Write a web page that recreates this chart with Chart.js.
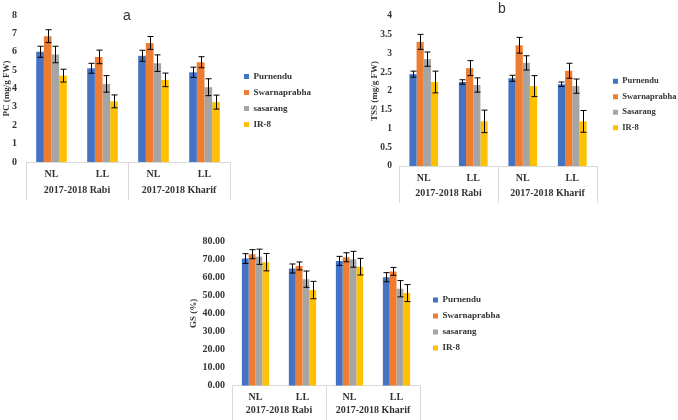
<!DOCTYPE html>
<html>
<head>
<meta charset="utf-8">
<script src="https://cdn.jsdelivr.net/npm/chart.js@4.4.1/dist/chart.umd.min.js"></script>
<style>
  html, body { margin: 0; padding: 0; background: #fff; width: 678px; height: 420px; overflow: hidden; }
  body { position: relative; }
  canvas { position: absolute; }
  .tag { position: absolute; font: 14px 'Liberation Sans', Arial, sans-serif; color: #333; transform: translate(-50%, -50%); }
</style>
</head>
<body>
<canvas id="pc"  width="316" height="203" style="left:0;top:0"></canvas>
<canvas id="tss" width="312" height="210" style="left:366px;top:0"></canvas>
<canvas id="gs"  width="319" height="192" style="left:187px;top:228px"></canvas>
<div class="tag" style="left:127px;top:15px">a</div>
<div class="tag" style="left:502px;top:8px">b</div>
<script>
'use strict';

// ── data ────────────────────────────────────────────────────────────────────
const conditions = ['NL', 'LL', 'NL', 'LL'];
const seasons    = ['2017-2018 Rabi', '2017-2018 Kharif'];
const varieties  = ['Purnendu', 'Swarnaprabha', 'sasarang', 'IR-8'];
const varietiesB = ['Purnendu', 'Swarnaprabha', 'Sasarang', 'IR-8'];
const colors     = ['#4472C4', '#ED7D31', '#A5A5A5', '#FFC000'];

// order inside each row: NL Rabi, LL Rabi, NL Kharif, LL Kharif
const pcMeans  = [[6.00, 5.10, 5.78, 4.88], [6.85, 5.72, 6.48, 5.43], [5.85, 4.25, 5.38, 4.07], [4.70, 3.30, 4.47, 3.26]];
const pcErrors = [[0.30, 0.27, 0.30, 0.28], [0.35, 0.37, 0.35, 0.30], [0.45, 0.45, 0.45, 0.46], [0.35, 0.35, 0.37, 0.38]];

const tssMeans  = [[2.45, 2.24, 2.34, 2.18], [3.31, 2.61, 3.22, 2.54], [2.85, 2.16, 2.75, 2.13], [2.24, 1.19, 2.13, 1.19]];
const tssErrors = [[0.08, 0.06, 0.08, 0.06], [0.20, 0.20, 0.21, 0.20], [0.19, 0.19, 0.19, 0.19], [0.29, 0.30, 0.28, 0.29]];

const gsMeans  = [[70.3, 64.8, 69.0, 60.0], [72.7, 66.2, 71.0, 63.2], [71.3, 58.9, 69.9, 53.6], [68.3, 52.9, 65.8, 51.2]];
const gsErrors = [[2.7, 2.5, 2.5, 2.5], [2.5, 2.2, 2.5, 2.2], [4.2, 4.5, 4.4, 4.5], [4.8, 4.8, 4.6, 4.7]];

const pcTicks  = ['0', '1', '2', '3', '4', '5', '6', '7', '8'];
const tssTicks = ['0', '0.5', '1', '1.5', '2', '2.5', '3', '3.5', '4'];
const gsTicks  = ['0.00', '10.00', '20.00', '30.00', '40.00', '50.00', '60.00', '70.00', '80.00'];

// ── style ───────────────────────────────────────────────────────────────────
const TEXT  = '#333333';
const LINE  = '#d9d9d9';
const SERIF = "'Liberation Serif', 'Times New Roman', serif";

Chart.defaults.font.family = SERIF;
Chart.defaults.font.weight = 'bold';
Chart.defaults.color = TEXT;

// error bars, drawn from the y scale
const errorBars = {
  id: 'errorBars',
  afterDatasetsDraw(chart) {
    const { ctx } = chart;
    const y = chart.scales.y;
    ctx.save();
    ctx.strokeStyle = '#000';
    ctx.lineWidth = 1;
    chart.data.datasets.forEach((ds, i) => {
      chart.getDatasetMeta(i).data.forEach((bar, j) => {
        const v = ds.data[j], e = ds.errors[j];
        const t = y.getPixelForValue(v + e), b = y.getPixelForValue(v - e);
        const x = Math.round(bar.x) + 0.5;
        ctx.beginPath();
        ctx.moveTo(x, t); ctx.lineTo(x, b);
        ctx.moveTo(x - 3, t); ctx.lineTo(x + 3, t);
        ctx.moveTo(x - 3, b); ctx.lineTo(x + 3, b);
        ctx.stroke();
      });
    });
    ctx.restore();
  }
};

// second row of the category axis (season groups + divider lines)
const seasonAxis = {
  id: 'seasonAxis',
  afterDraw(chart, args, opts) {
    const { ctx, chartArea: a } = chart;
    const x = chart.scales.x;
    const mid = (x.getPixelForValue(1) + x.getPixelForValue(2)) / 2;
    const edges = [a.left, mid, a.right];
    ctx.save();
    ctx.strokeStyle = LINE;
    ctx.lineWidth = 1;
    edges.forEach(px => {
      const xx = Math.round(px) + 0.5;
      ctx.beginPath();
      ctx.moveTo(xx, a.bottom);
      ctx.lineTo(xx, a.bottom + opts.len);
      ctx.stroke();
    });
    ctx.fillStyle = TEXT;
    ctx.font = 'bold 10px ' + SERIF;
    ctx.textAlign = 'center';
    ctx.textBaseline = 'middle';
    seasons.forEach((s, k) => ctx.fillText(s, (edges[k] + edges[k + 1]) / 2, a.bottom + opts.dy));
    ctx.restore();
  }
};

function makeChart(id, o) {
  return new Chart(document.getElementById(id), {
    type: 'bar',
    data: {
      labels: conditions,
      datasets: o.names.map((n, i) => ({
        label: n,
        data: o.means[i],
        errors: o.errors[i],
        backgroundColor: colors[i],
        borderWidth: 0,
        categoryPercentage: o.cat,
        barPercentage: 1,
      })),
    },
    options: {
      responsive: false,
      animation: false,
      layout: { padding: { top: 0, right: 0, bottom: o.padBottom, left: 0 } },
      plugins: {
        title: { display: true, text: '', padding: 0, font: { size: o.top, lineHeight: 1 } },
        legend: {
          position: 'right', align: 'center', maxWidth: o.legendW,
          labels: { boxWidth: 5, boxHeight: 5, padding: 7, color: TEXT, font: { size: o.legendFont, weight: 'bold' } },
        },
        tooltip: { enabled: false },
        seasonAxis: { len: o.lineLen, dy: o.groupDy },
      },
      scales: {
        x: {
          grid: { display: false, drawTicks: false },
          border: { display: true, color: LINE },
          ticks: { padding: 6, color: TEXT, font: { size: 10, weight: 'bold' } },
          afterFit: s => { s.height = o.xH; },
        },
        y: {
          min: 0, max: o.max,
          grid: { display: false, drawTicks: false },
          border: { display: false },
          ticks: { stepSize: o.step, padding: o.tickPad, color: TEXT, font: { size: o.tickFont, weight: 'bold' }, callback: (v, i) => o.ticks[i] },
          title: { display: true, text: o.title, color: TEXT, font: { size: 9, weight: 'bold' }, padding: { top: o.titlePad, bottom: 0 } },
          afterFit: s => { s.width = o.yW; },
        },
        pad: {
          position: 'right', display: true,
          grid: { display: false, drawTicks: false },
          border: { display: false },
          ticks: { display: false },
          afterFit: s => { s.width = o.gap; },
        },
      },
    },
    plugins: [errorBars, seasonAxis],
  });
}

makeChart('pc', {
  names: varieties, means: pcMeans, errors: pcErrors, ticks: pcTicks,
  max: 8, step: 1, title: 'PC (mg/g FW)',
  top: 12, padBottom: 2, xH: 39, yW: 26, tickPad: 9, tickFont: 10, titlePad: 1, gap: 7, legendW: 79, legendFont: 9,
  cat: 0.6, lineLen: 38, groupDy: 28,
});

makeChart('tss', {
  names: varietiesB, means: tssMeans, errors: tssErrors, ticks: tssTicks,
  max: 4, step: 0.5, title: 'TSS (mg/g FW)',
  top: 16, padBottom: 1, xH: 43, yW: 33, tickPad: 7, tickFont: 9.5, titlePad: 3, gap: 9, legendW: 72, legendFont: 8.5,
  cat: 0.58, lineLen: 37, groupDy: 27.5,
});

makeChart('gs', {
  names: varieties, means: gsMeans, errors: gsErrors, ticks: gsTicks,
  max: 80, step: 10, title: 'GS (%)',
  top: 7, padBottom: 0, xH: 34.3, yW: 45, tickPad: 7, tickFont: 10, titlePad: 1, gap: 6, legendW: 80, legendFont: 9,
  cat: 0.58, lineLen: 35, groupDy: 24.5,
});
</script>
</body>
</html>
